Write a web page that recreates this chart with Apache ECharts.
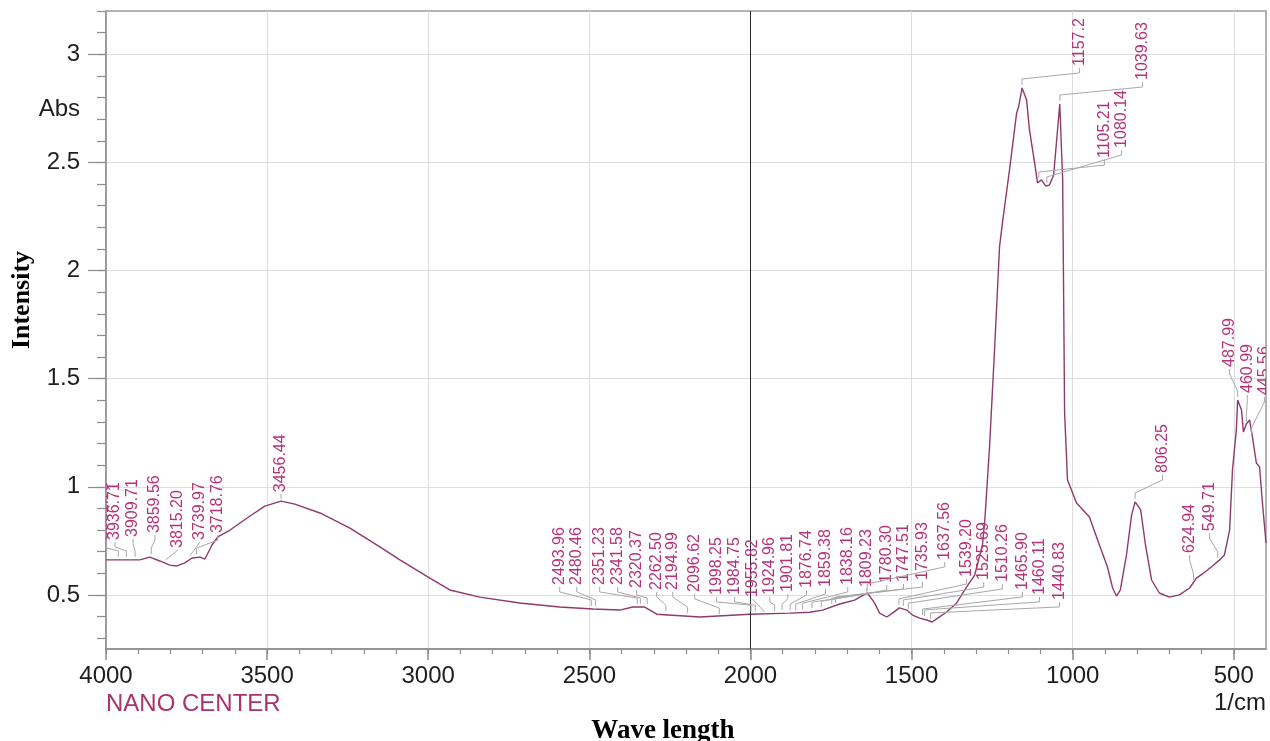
<!DOCTYPE html>
<html>
<head>
<meta charset="utf-8">
<script src="https://cdn.jsdelivr.net/npm/echarts@6/dist/echarts.min.js"></script>
<style>
html,body{margin:0;padding:0;background:#ffffff;}
#chart{width:1270px;height:741px;}
</style>
</head>
<body>
<div id="chart"></div>
<script>
// ---- spectrum (wavenumber 1/cm, absorbance) ----
const spectrumWn = [4000, 3957, 3895, 3864, 3833, 3802, 3780, 3755, 3733, 3708,
  3693, 3671, 3653, 3615, 3553, 3507, 3457, 3414, 3336, 3243,
  3150, 3088, 2995, 2933, 2840, 2716, 2592, 2489, 2406, 2365,
  2328, 2291, 2157, 2002, 1878, 1816, 1776, 1723, 1677, 1637,
  1615, 1599, 1577, 1559, 1538, 1515, 1497, 1475, 1453, 1436,
  1419, 1391, 1360, 1329, 1304, 1280, 1273, 1258, 1242, 1227,
  1218, 1196, 1174, 1168, 1157, 1143, 1134, 1118, 1109, 1097,
  1084, 1072, 1059, 1047, 1040, 1031, 1025, 1016, 988, 948,
  917, 892, 876, 864, 852, 833, 817, 806, 789, 774,
  755, 731, 700, 669, 637, 616, 597, 566, 544, 529,
  513, 504, 492, 488, 476, 470, 461, 451, 442, 430,
  420, 411, 400];
const spectrumAbs = [0.662, 0.662, 0.662, 0.675, 0.657, 0.638, 0.634, 0.648, 0.671, 0.675,
  0.666, 0.731, 0.768, 0.800, 0.865, 0.911, 0.934, 0.920, 0.879, 0.809,
  0.722, 0.662, 0.578, 0.523, 0.490, 0.463, 0.444, 0.435, 0.430, 0.444,
  0.444, 0.411, 0.398, 0.411, 0.416, 0.420, 0.430, 0.458, 0.476, 0.509,
  0.463, 0.416, 0.398, 0.416, 0.440, 0.430, 0.407, 0.393, 0.384, 0.375,
  0.393, 0.421, 0.463, 0.537, 0.592, 0.731, 0.837, 1.184, 1.646, 2.109,
  2.220, 2.465, 2.728, 2.756, 2.844, 2.788, 2.650, 2.497, 2.405, 2.419,
  2.391, 2.395, 2.442, 2.650, 2.770, 2.419, 1.341, 1.031, 0.925, 0.860,
  0.731, 0.629, 0.532, 0.495, 0.523, 0.685, 0.870, 0.930, 0.893, 0.731,
  0.569, 0.509, 0.490, 0.500, 0.532, 0.578, 0.597, 0.634, 0.662, 0.685,
  0.800, 1.078, 1.263, 1.401, 1.355, 1.253, 1.290, 1.309, 1.230, 1.110,
  1.092, 0.925, 0.740];

// ---- peak annotations ----
const peakLabels = ["3961.75","3936.71","3909.71","3859.56","3815.20","3739.97","3718.76","3456.44",
  "2493.96","2480.46","2351.23","2341.58","2320.37","2262.50","2194.99","2096.62","1998.25","1984.75",
  "1955.82","1924.96","1901.81","1876.74","1859.38","1838.16","1809.23","1780.30","1747.51","1735.93",
  "1637.56","1539.20","1525.69","1510.26","1465.90","1460.11","1440.83",
  "1157.2","1105.21","1080.14","1039.63",
  "806.25","624.94","549.71","487.99","460.99","445.56"];
const peakAbs = [0.662,0.662,0.662,0.675,0.652,0.671,0.675,0.934,
  0.435,0.435,0.444,0.444,0.444,0.411,0.402,0.398,0.411,0.411,
  0.411,0.411,0.416,0.416,0.416,0.420,0.425,0.429,0.444,0.449,
  0.509,0.440,0.435,0.420,0.393,0.389,0.375,
  2.844,2.414,2.391,2.770,
  0.930,0.555,0.657,1.401,1.286,1.230];
// where each peak's text sits (in axis units: wavenumber, absorbance at text foot)
const labelAtWn = [4009,3972,3916,3848,3777,3708,3653,3457,
  2592,2539,2468,2412,2353,2291,2241,2173,2105,2049,
  1993,1940,1884,1826,1767,1698,1639,1577,1525,1466,
  1397,1329,1276,1218,1156,1103,1041,
  979,901,848,783,
  721,637,575,513,458,405];
const labelAtAbs = [0.754,0.754,0.768,0.786,0.717,0.754,0.786,0.975,
  0.546,0.546,0.546,0.546,0.532,0.523,0.523,0.514,0.500,0.500,
  0.490,0.500,0.514,0.532,0.537,0.546,0.537,0.555,0.560,0.569,
  0.662,0.583,0.569,0.560,0.523,0.500,0.477,
  2.946,2.520,2.567,2.881,
  1.064,0.694,0.795,1.554,1.434,1.424];

// ---- axes ----
const xTickValues = [500, 1000, 1500, 2000, 2500, 3000, 3500, 4000];
const xMinorTickValues = [500,600,700,800,900,1000,1100,1200,1300,1400,1500,1600,1700,1800,1900,
  2000,2100,2200,2300,2400,2500,2600,2700,2800,2900,3000,3100,3200,3300,3400,3500,3600,3700,3800,3900,4000];
const yTickValues = [0.5, 1, 1.5, 2, 2.5, 3];
const yMinorTickValues = [0.3,0.4,0.5,0.6,0.7,0.8,0.9,1.0,1.1,1.2,1.3,1.4,1.5,1.6,1.7,1.8,1.9,2.0,
  2.1,2.2,2.3,2.4,2.5,2.6,2.7,2.8,2.9,3.0,3.1,3.2];
const xMin = 400, xMax = 4000, yMin = 0.25, yMax = 3.2;
const cursorWn = 2000;

const SANS = '"Liberation Sans", Arial, sans-serif';
const SERIF = '"Liberation Serif", "Times New Roman", serif';
const axisGray = '#8c8c8c';
const labelColor = '#b5337a';

const chart = echarts.init(document.getElementById('chart'), null, {renderer: 'canvas'});

const option = {
  animation: false,
  backgroundColor: '#ffffff',
  grid: {
    left: 106, right: 4, top: 11, bottom: 92,
    containLabel: false, outerBoundsMode: 'none',
    show: true, borderColor: '#9a9a9a', borderWidth: 1.5, backgroundColor: 'transparent'
  },
  xAxis: [{
    type: 'value', min: xMin, max: xMax, inverse: true, splitNumber: 7,
    position: 'bottom',
    axisLine: {show: true, onZero: false, lineStyle: {color: axisGray, width: 1.5}},
    axisTick: {show: true, inside: false, length: 11, customValues: xTickValues,
      lineStyle: {color: axisGray, width: 1.5}},
    axisLabel: {show: true, customValues: xTickValues, margin: 15,
      formatter: function (v) { return String(v); },
      color: '#1e1e1e', fontSize: 24, fontFamily: SANS},
    splitLine: {show: true, lineStyle: {color: '#dedede', width: 1}}
  }, {
    type: 'value', min: xMin, max: xMax, inverse: true, position: 'bottom', offset: 0,
    axisLine: {show: false},
    axisTick: {show: true, inside: false, length: 5, customValues: xMinorTickValues,
      lineStyle: {color: axisGray, width: 1.2}},
    axisLabel: {show: false},
    splitLine: {show: false}
  }],
  yAxis: [{
    type: 'value', min: yMin, max: yMax, splitNumber: 6,
    position: 'left',
    axisLine: {show: true, onZero: false, lineStyle: {color: axisGray, width: 1.5}},
    axisTick: {show: true, inside: false, length: 18, customValues: yTickValues,
      lineStyle: {color: axisGray, width: 1.2}},
    axisLabel: {show: true, customValues: yTickValues, margin: 26,
      formatter: function (v) { return String(v); },
      color: '#1e1e1e', fontSize: 24, fontFamily: SANS},
    splitLine: {show: true, lineStyle: {color: '#dedede', width: 1}}
  }, {
    type: 'value', min: yMin, max: yMax, position: 'left', offset: 0,
    axisLine: {show: false},
    axisTick: {show: true, inside: false, length: 9, customValues: yMinorTickValues,
      lineStyle: {color: axisGray, width: 1.2}},
    axisLabel: {show: false},
    splitLine: {show: false}
  }],
  graphic: [
    {type: 'text', x: 80, y: 109, silent: true,
      style: {text: 'Abs', font: '24px ' + SANS, fill: '#1e1e1e',
        textAlign: 'right', align: 'right', textVerticalAlign: 'middle', verticalAlign: 'middle'}},
    {type: 'text', x: 22, y: 300, rotation: Math.PI / 2, silent: true,
      style: {text: 'Intensity', font: 'bold 26px ' + SERIF, fill: '#000000',
        textAlign: 'center', align: 'center', textVerticalAlign: 'middle', verticalAlign: 'middle'}},
    {type: 'text', x: 106, y: 704, silent: true,
      style: {text: 'NANO CENTER', font: '24px ' + SANS, fill: '#a8336e',
        textAlign: 'left', align: 'left', textVerticalAlign: 'middle', verticalAlign: 'middle'}},
    {type: 'text', x: 1266, y: 703, silent: true,
      style: {text: '1/cm', font: '24px ' + SANS, fill: '#1e1e1e',
        textAlign: 'right', align: 'right', textVerticalAlign: 'middle', verticalAlign: 'middle'}},
    {type: 'text', x: 663, y: 731, silent: true,
      style: {text: 'Wave length', font: 'bold 27px ' + SERIF, fill: '#000000',
        textAlign: 'center', align: 'center', textVerticalAlign: 'middle', verticalAlign: 'middle'}}
  ],
  series: [{
    type: 'line',
    xAxisIndex: 0, yAxisIndex: 0,
    data: spectrumWn.map((w, i) => [w, spectrumAbs[i]]),
    showSymbol: false, symbol: 'none', smooth: false, clip: true,
    lineStyle: {color: '#8e3a6c', width: 1.4},
    z: 4,
    markLine: {
      silent: true, symbol: 'none', label: {show: false},
      lineStyle: {color: '#2a2a2a', width: 1, type: 'solid'},
      data: [{xAxis: cursorWn}]
    }
  }, {
    type: 'custom',
    xAxisIndex: 0, yAxisIndex: 0,
    clip: true, silent: true, z: 5,
    encode: {x: 0, y: 1},
    data: peakLabels.map((t, i) => [parseFloat(t), peakAbs[i], labelAtWn[i], labelAtAbs[i]]),
    renderItem: function (params, api) {
      const peak = api.coord([api.value(0), api.value(1)]);
      const lab = api.coord([api.value(2), api.value(3)]);
      const lx = lab[0], ly = lab[1], px = peak[0], py = peak[1];
      let pts;
      if (py - ly < 18) {
        pts = [[lx, ly + 2], [px, py - 2]];
      } else {
        pts = [[lx, ly + 2], [lx, ly + 7], [px, py - 9], [px, py - 3]];
      }
      return {
        type: 'group',
        children: [{
          type: 'polyline',
          shape: {points: pts},
          style: {stroke: '#a8a8a8', fill: null, lineWidth: 1}
        }, {
          type: 'text',
          x: lx, y: ly,
          rotation: Math.PI / 2,
          style: {
            text: peakLabels[params.dataIndex],
            font: '16px ' + SANS,
            fill: labelColor,
            textAlign: 'left', align: 'left',
            textVerticalAlign: 'middle', verticalAlign: 'middle'
          }
        }]
      };
    }
  }]
};

chart.setOption(option);
</script>
</body>
</html>
